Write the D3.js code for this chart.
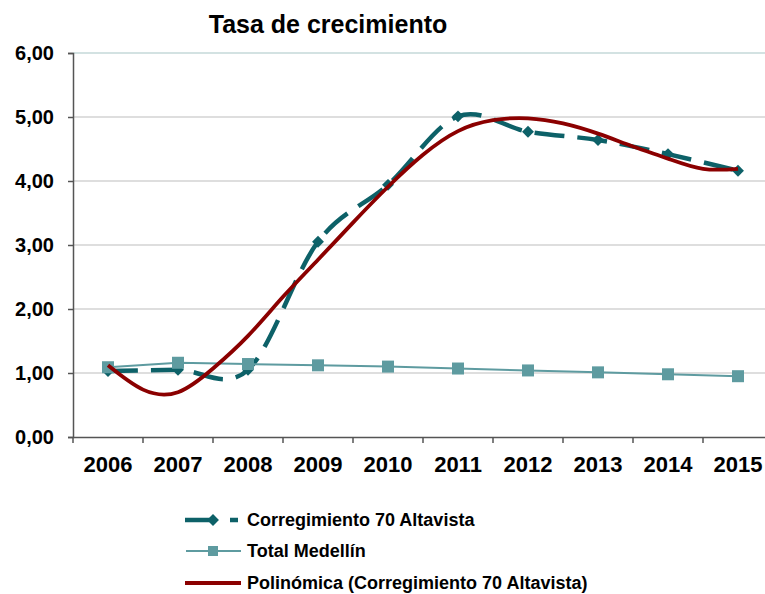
<!DOCTYPE html>
<html>
<head>
<meta charset="utf-8">
<script src="https://cdn.jsdelivr.net/npm/d3@7"></script>
<style>
  body { margin: 0; background: #fff; }
  text { font-family: "Liberation Sans", Arial, sans-serif; font-weight: bold; fill: #000; }
</style>
</head>
<body>
<div id="chart"></div>
<script>
// data
var years = ["2006","2007","2008","2009","2010","2011","2012","2013","2014","2015"];
var altavista = [1.03, 1.05, 1.05, 3.05, 3.94, 5.01, 4.77, 4.64, 4.42, 4.16];
var medellin = [1.09, 1.16, 1.14, 1.12, 1.10, 1.07, 1.04, 1.01, 0.98, 0.95];
// polynomial trend line as it appears in the picture
var trendT = [2006, 2006.5, 2007, 2007.5, 2008, 2008.5, 2009, 2009.5, 2010, 2010.5,
              2011, 2011.5, 2012, 2012.5, 2013, 2013.5, 2014, 2014.5, 2015];
var trendV = [1.12, 0.74, 0.70, 1.07, 1.58, 2.19, 2.77, 3.35, 3.91, 4.41,
              4.78, 4.95, 4.98, 4.90, 4.74, 4.54, 4.35, 4.19, 4.19];
var yTicks = [0, 1, 2, 3, 4, 5, 6];
var legendNames = ["Corregimiento 70 Altavista", "Total Medellín", "Polinómica (Corregimiento 70 Altavista)"];

var W = 765, H = 594;
var m = {top: 53, left: 73, bottom: 437, right: 773};
var cDark = "#0d6168", cLight = "#5e9ba0", cRed = "#8b0000";

var svg = d3.select("#chart").append("svg")
    .attr("width", W).attr("height", H);

var x = d3.scaleBand().domain(years).range([m.left, m.right]).padding(0);
var y = d3.scaleLinear().domain([0, 6]).range([m.bottom, m.top]);
var bw = x.bandwidth();
var xc = function(yr){ return x(yr) + bw / 2; };
var xt = d3.scaleLinear().domain([2006, 2015]).range([xc("2006"), xc("2015")]);

// title
svg.append("text")
   .attr("x", 328).attr("y", 33)
   .attr("text-anchor", "middle")
   .style("font-size", "25px")
   .text("Tasa de crecimiento");

// gridlines
svg.append("g").selectAll("line")
   .data(yTicks.filter(function(d){ return d > 0; }))
   .join("line")
   .attr("x1", m.left).attr("x2", W)
   .attr("y1", function(d){ return y(d); }).attr("y2", function(d){ return y(d); })
   .attr("stroke", function(d){ return d == 6 ? "#d3e2e2" : "#dedede"; })
   .attr("stroke-width", 2);

// y axis
var yAxis = svg.append("g")
   .attr("transform", "translate(" + m.left + ",0)")
   .call(d3.axisLeft(y).tickValues(yTicks).tickSize(5).tickPadding(14)
         .tickFormat(function(d){ return d3.format(".2f")(d).replace(".", ","); }));
yAxis.select(".domain").attr("stroke", "#555").attr("stroke-width", 1.5);
yAxis.selectAll(".tick line").attr("stroke", "#555").attr("stroke-width", 1.5);
yAxis.selectAll("text").style("font-size", "20px").attr("fill", "#000");

// x axis
var xAxis = svg.append("g")
   .attr("transform", "translate(0," + m.bottom + ")")
   .call(d3.axisBottom(x).tickSize(0).tickPadding(19));
xAxis.select(".domain").attr("stroke", "#555").attr("stroke-width", 1.5);
xAxis.selectAll("text").style("font-size", "22px").attr("fill", "#000");
xAxis.selectAll(".boundary")
   .data(years.map(function(d){ return x(d); }).concat([m.right]))
   .join("line")
   .attr("x1", function(d){ return d; }).attr("x2", function(d){ return d; })
   .attr("y1", 0).attr("y2", 6)
   .attr("stroke", "#555").attr("stroke-width", 1.5);

// Corregimiento 70 Altavista: smoothed dashed line with diamonds
var smooth = d3.line()
   .x(function(d, i){ return xc(years[i]); })
   .y(function(d){ return y(d); })
   .curve(d3.curveCatmullRom.alpha(0));

svg.append("path")
   .datum(altavista)
   .attr("d", smooth)
   .attr("fill", "none")
   .attr("stroke", cDark)
   .attr("stroke-width", 4.5)
   .attr("stroke-dasharray", "30,13");

var diamond = d3.symbol().type(d3.symbolDiamond2).size(90);
svg.append("g").selectAll("path")
   .data(altavista)
   .join("path")
   .attr("d", diamond)
   .attr("transform", function(d, i){ return "translate(" + xc(years[i]) + "," + y(d) + ")"; })
   .attr("fill", cDark);

// Total Medellín
svg.append("path")
   .datum(medellin)
   .attr("d", d3.line()
      .x(function(d, i){ return xc(years[i]); })
      .y(function(d){ return y(d); }))
   .attr("fill", "none")
   .attr("stroke", cLight)
   .attr("stroke-width", 2);

svg.append("g").selectAll("rect")
   .data(medellin)
   .join("rect")
   .attr("x", function(d, i){ return xc(years[i]) - 6; })
   .attr("y", function(d){ return y(d) - 6; })
   .attr("width", 12).attr("height", 12)
   .attr("fill", cLight);

// polynomial trend
svg.append("path")
   .datum(trendV)
   .attr("d", d3.line()
      .x(function(d, i){ return xt(trendT[i]); })
      .y(function(d){ return y(d); })
      .curve(d3.curveNatural))
   .attr("fill", "none")
   .attr("stroke", cRed)
   .attr("stroke-width", 3.8);

// legend
var lg = svg.append("g");
var rowY = [520, 551, 583];
legendNames.forEach(function(name, i){
  var ly = rowY[i];
  if (i == 0) {
    lg.append("line").attr("x1", 185).attr("x2", 241).attr("y1", ly).attr("y2", ly)
      .attr("stroke", cDark).attr("stroke-width", 4.5).attr("stroke-dasharray", "27,18,8");
    lg.append("path").attr("d", diamond).attr("transform", "translate(213," + ly + ")").attr("fill", cDark);
  } else if (i == 1) {
    lg.append("line").attr("x1", 186).attr("x2", 241).attr("y1", ly).attr("y2", ly)
      .attr("stroke", cLight).attr("stroke-width", 2);
    lg.append("rect").attr("x", 208).attr("y", ly - 5).attr("width", 10).attr("height", 10).attr("fill", cLight);
  } else {
    lg.append("line").attr("x1", 185).attr("x2", 241).attr("y1", ly).attr("y2", ly)
      .attr("stroke", cRed).attr("stroke-width", 3.8);
  }
  lg.append("text").attr("x", 247).attr("y", ly + 6)
    .style("font-size", "18px")
    .text(name);
});
</script>
</body>
</html>
